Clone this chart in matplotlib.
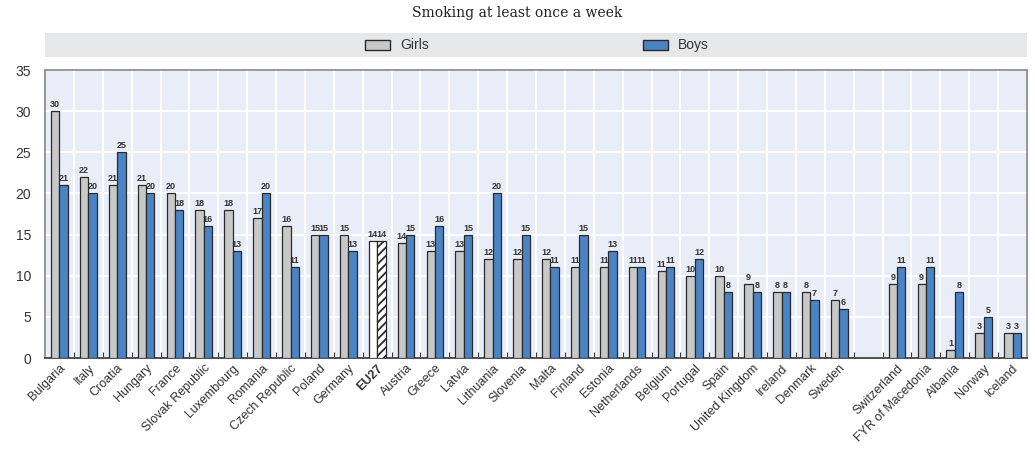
import matplotlib
matplotlib.use("Agg")
import matplotlib.pyplot as plt
from matplotlib.patches import Rectangle
import numpy as np

plt.rcParams['font.family'] = ['Liberation Sans Narrow', 'Liberation Sans', 'DejaVu Sans']
plt.rcParams['hatch.linewidth'] = 1.3

countries = ["Bulgaria", "Italy", "Croatia", "Hungary", "France", "Slovak Republic",
             "Luxembourg", "Romania", "Czech Republic", "Poland", "Germany", "EU27",
             "Austria", "Greece", "Latvia", "Lithuania", "Slovenia", "Malta", "Finland",
             "Estonia", "Netherlands", "Belgium", "Portugal", "Spain", "United Kingdom",
             "Ireland", "Denmark", "Sweden", "", "Switzerland", "FYR of Macedonia",
             "Albania", "Norway", "Iceland"]
girls = [30, 22, 21, 21, 20, 18, 18, 17, 16, 15, 15, 14.2, 14, 13, 13, 12, 12, 12, 11,
         11, 11, 10.6, 10, 10, 9, 8, 8, 7, None, 9, 9, 1, 3, 3]
boys = [21, 20, 25, 20, 18, 16, 13, 20, 11, 15, 13, 14.2, 15, 16, 15, 20, 15, 11, 15,
        13, 11, 11, 12, 8, 8, 8, 7, 6, None, 11, 11, 8, 5, 3]
title = "Smoking at least once a week"

girl_color = "#c8c8c8"
boy_color = "#4a84c4"
edge = "#2a2a2a"

fig = plt.figure(figsize=(10.35, 4.5), dpi=100)
ax = fig.add_axes([45/1035, 1-358/450, (1027-45)/1035, (358-70)/450])
ax.set_facecolor("#e9edf7")

n = len(countries)
x = np.arange(n)
w = 0.29
for i in range(n):
    if girls[i] is None:
        continue
    eu = countries[i] == "EU27"
    ax.bar(x[i] - w/2, girls[i], w, color="white" if eu else girl_color,
           edgecolor=edge, linewidth=0.9, zorder=3)
    ax.bar(x[i] + w/2, boys[i], w, color="white" if eu else boy_color,
           edgecolor=edge, linewidth=0.9, zorder=3, hatch="////" if eu else None)
    ax.text(x[i] - w/2, girls[i] + 0.25, f"{round(girls[i]):d}", ha="center", va="bottom",
            fontsize=6.5, fontweight="bold", color="#333333", zorder=4)
    ax.text(x[i] + w/2, boys[i] + 0.25, f"{round(boys[i]):d}", ha="center", va="bottom",
            fontsize=6.5, fontweight="bold", color="#333333", zorder=4)

ax.set_xlim(-0.5, n - 0.5)
ax.set_ylim(0, 35)
ax.set_yticks(np.arange(0, 36, 5))
ax.yaxis.grid(True, color="white", linewidth=1.5, zorder=1)
ax.set_xticks(x)
ax.set_xticklabels(countries, rotation=45, ha="right", rotation_mode="anchor",
                   fontsize=9, color="#333333")
for lbl in ax.get_xticklabels():
    if lbl.get_text() == "EU27":
        lbl.set_fontweight("bold")
ax.set_xticks(np.arange(-0.5, n, 1.0)[1:-1], minor=True)
ax.xaxis.grid(True, which="minor", color="white", linewidth=1.5, zorder=1)
ax.tick_params(axis="x", which="major", length=0, pad=3)
ax.tick_params(axis="x", which="minor", direction="in", length=4, color="#333333", width=0.8)
ax.tick_params(axis="y", length=0, labelsize=10, labelcolor="#333333", pad=10)
ax.set_axisbelow(True)
for s in ["top", "right", "left"]:
    ax.spines[s].set_color("#888888")
    ax.spines[s].set_linewidth(1.2)
ax.spines["bottom"].set_color("#333333")
ax.spines["bottom"].set_linewidth(1.2)

# legend band
lax = fig.add_axes([45/1035, 1-57/450, (1027-45)/1035, 24/450])
lax.set_facecolor("#e6e7e9")
lax.set_xlim(0, 1027-45)
lax.set_ylim(0, 1)
lax.set_xticks([]); lax.set_yticks([])
for s in lax.spines.values():
    s.set_visible(False)
lax.add_patch(Rectangle((365-45, 0.28), 25, 0.44, facecolor=girl_color, edgecolor=edge, linewidth=1))
lax.text(400-45, 0.5, "Girls", va="center", ha="left", fontsize=10, color="#333333")
lax.add_patch(Rectangle((643-45, 0.28), 25, 0.44, facecolor=boy_color, edgecolor=edge, linewidth=1))
lax.text(678-45, 0.5, "Boys", va="center", ha="left", fontsize=10, color="#333333")

fig.text(0.5, 1-13/450, title, ha="center", va="center", fontsize=10,
         family=["DejaVu Serif"], color="#222222")

fig.savefig("out.png", dpi=100)
